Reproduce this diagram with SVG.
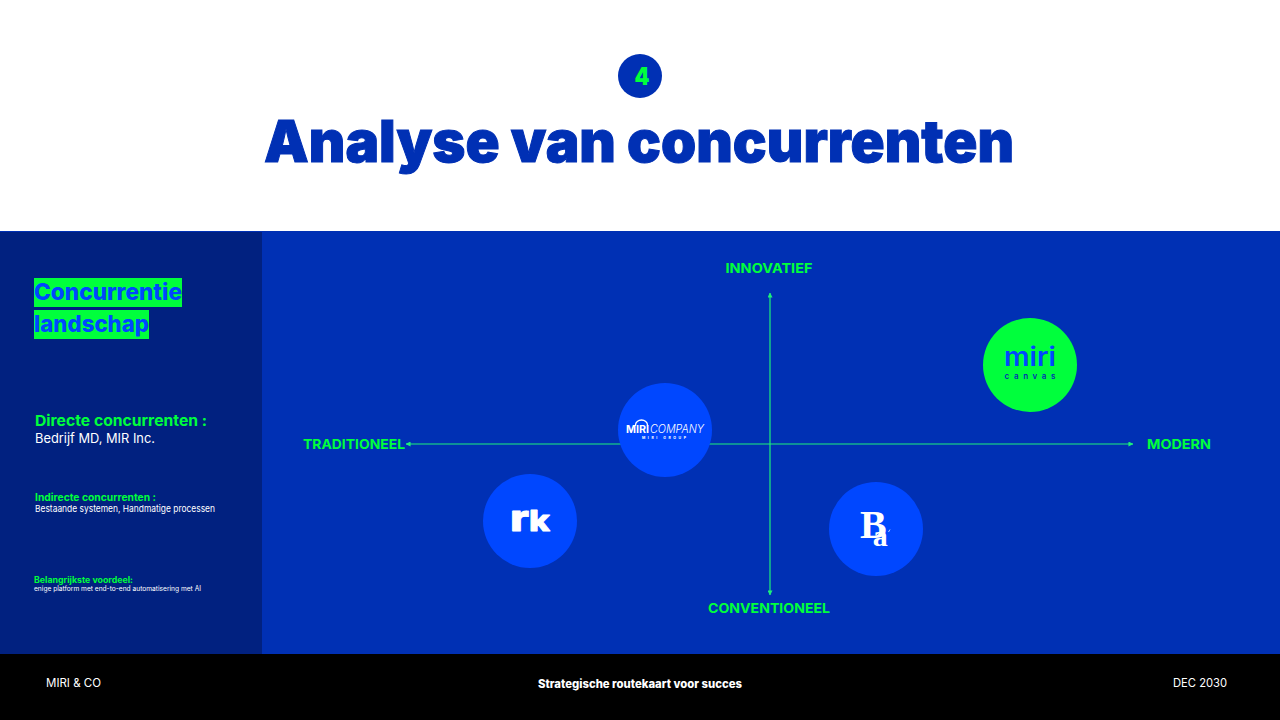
<svg xmlns="http://www.w3.org/2000/svg" width="1280" height="720" viewBox="0 0 1280 720">
<style>
text{font-family:"Inter","Liberation Sans",sans-serif}
.g{fill:#00ff3c}
.w{fill:#ffffff}
.ax{font-weight:700;font-size:13.5px;fill:#00ff3c}
.c{fill:#0047ff}
.line{stroke:#1cf07a;stroke-width:1.2;fill:none}
</style>
<defs>
<marker id="arr" viewBox="0 0 6 6" refX="5.5" refY="3" markerWidth="5" markerHeight="5" markerUnits="userSpaceOnUse" orient="auto-start-reverse"><path d="M0 0L6 3L0 6Z" fill="#1cf07a"/></marker>
</defs>
<rect width="1280" height="720" fill="#ffffff"/>
<rect y="231" width="1280" height="424" fill="#0030b4"/>
<rect y="232" width="262" height="423" fill="#012180"/>
<rect y="654" width="1280" height="66" fill="#000000"/>
<g id="badge"><circle cx="640" cy="76" r="22" fill="#0030b4"/><text x="642" y="85" text-anchor="middle" font-size="24" font-weight="900" class="g" textLength="15" lengthAdjust="spacingAndGlyphs">4</text></g>
<text id="title" x="264" y="162" font-size="58" font-weight="900" fill="#0030b4" stroke="#0030b4" stroke-width="1" textLength="750" lengthAdjust="spacingAndGlyphs">Analyse van concurrenten</text>
<g id="sidebar">
<rect x="34" y="278" width="148" height="29" fill="#00ff3c"/>
<rect x="34" y="310" width="115" height="29" fill="#00ff3c"/>
<text x="34" y="300" font-size="22.5" font-weight="800" fill="#0047ff" textLength="148" lengthAdjust="spacingAndGlyphs">Concurrentie</text>
<text x="34" y="332" font-size="22.5" font-weight="800" fill="#0047ff" textLength="115" lengthAdjust="spacingAndGlyphs">landschap</text>
<text x="35" y="426" font-size="15" font-weight="700" class="g" textLength="172" lengthAdjust="spacingAndGlyphs">Directe concurrenten :</text>
<text x="35" y="443" font-size="13" class="w" textLength="120" lengthAdjust="spacingAndGlyphs">Bedrijf MD, MIR Inc.</text>
<text x="35" y="501" font-size="10.5" font-weight="700" class="g" textLength="121" lengthAdjust="spacingAndGlyphs">Indirecte concurrenten :</text>
<text x="35" y="512" font-size="9.5" class="w" textLength="180" lengthAdjust="spacingAndGlyphs">Bestaande systemen, Handmatige processen</text>
<text x="34" y="583" font-size="8.5" font-weight="700" class="g" textLength="99" lengthAdjust="spacingAndGlyphs">Belangrijkste voordeel:</text>
<text x="34" y="591" font-size="7" class="w" textLength="167" lengthAdjust="spacingAndGlyphs">enige platform met end-to-end automatisering met AI</text>
</g>
<g id="connectors">
<line class="line" x1="406" y1="444" x2="1133" y2="444" marker-start="url(#arr)" marker-end="url(#arr)"/>
<line class="line" x1="770" y1="293" x2="770" y2="595" marker-start="url(#arr)" marker-end="url(#arr)"/>
</g>
<g id="axis-labels">
<text class="ax" x="769" y="273" text-anchor="middle" textLength="87" lengthAdjust="spacingAndGlyphs">INNOVATIEF</text>
<text class="ax" x="769" y="613" text-anchor="middle" textLength="122" lengthAdjust="spacingAndGlyphs">CONVENTIONEEL</text>
<text class="ax" x="303" y="449" textLength="102" lengthAdjust="spacingAndGlyphs">TRADITIONEEL</text>
<text class="ax" x="1147" y="449" textLength="64" lengthAdjust="spacingAndGlyphs">MODERN</text>
</g>
<g id="node-miri-company">
<circle class="c" cx="665" cy="430" r="47"/>
<path d="M635.5 426v-1a6 5 0 0 1 12 0v1" fill="none" stroke="#ffffff" stroke-width="1.3"/>
<text x="626" y="433" font-size="10" font-weight="700" class="w" textLength="23" lengthAdjust="spacingAndGlyphs">MIRI</text>
<text x="650" y="433" font-size="11" font-style="italic" font-weight="300" class="w" textLength="54" lengthAdjust="spacingAndGlyphs">COMPANY</text>
<text x="642" y="439" font-size="3.5" font-weight="700" class="w" textLength="44" lengthAdjust="spacing">MIRI GROUP</text>
</g>
<g id="node-miri-canvas">
<circle cx="1030" cy="365" r="47" fill="#00ff3c"/>
<text x="1030" y="366" text-anchor="middle" font-size="26" font-weight="600" fill="#0047ff" textLength="52" lengthAdjust="spacingAndGlyphs">miri</text>
<text x="1030" y="379" text-anchor="middle" font-size="8" font-weight="600" fill="#0030b4" textLength="51" lengthAdjust="spacing">canvas</text>
</g>
<g id="node-rk">
<circle class="c" cx="530" cy="521" r="47"/>
<text x="510" y="531" font-size="36" font-weight="800" class="w" stroke="#ffffff" stroke-width="0.8" stroke-linejoin="round" textLength="40" lengthAdjust="spacingAndGlyphs">r<tspan font-size="28">k</tspan></text>
</g>
<g id="node-ba">
<circle class="c" cx="876" cy="529" r="47"/>
<text x="860" y="538" font-size="40" font-weight="700" style="font-family:'Liberation Serif',serif" class="w">B<tspan dx="-14" dy="8" font-size="30">a</tspan></text>
<path d="M888.5 532l1.5-2.5" stroke="#ffffff" stroke-width="0.7" fill="none"/>
</g>
<g id="footer">
<text x="46" y="687" font-size="11.5" class="w" textLength="55" lengthAdjust="spacingAndGlyphs">MIRI &amp; CO</text>
<text x="640" y="688" text-anchor="middle" font-size="11.5" font-weight="800" class="w" textLength="204" lengthAdjust="spacingAndGlyphs">Strategische routekaart voor succes</text>
<text x="1227" y="687" text-anchor="end" font-size="11.5" class="w" textLength="54" lengthAdjust="spacingAndGlyphs">DEC 2030</text>
</g>
</svg>
